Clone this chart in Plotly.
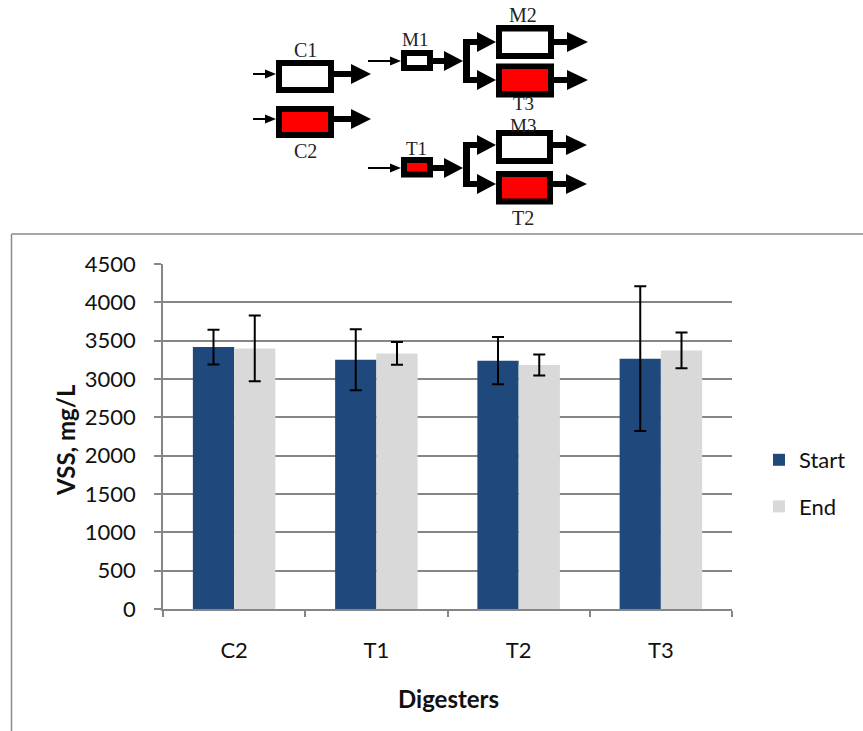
import plotly.graph_objects as go

# VSS at start and end of the digestion period, with standard deviations
digesters = ["C2", "T1", "T2", "T3"]
vss_start = [3416, 3252, 3239, 3265]
vss_start_sd = [226, 398, 308, 944]
vss_end = [3399, 3334, 3182, 3373]
vss_end_sd = [428, 148, 137, 234]

y_ticks = [0, 500, 1000, 1500, 2000, 2500, 3000, 3500, 4000, 4500]

W, H = 863, 731
M_L, M_R, M_T, M_B = 163, 131, 264, 122
PLOT_W = W - M_L - M_R
PLOT_H = H - M_T - M_B

FONT = "Lato"
SERIF = "Liberation Serif"
AXIS_GREY = "#868686"
TEXT = "#111111"


def px(x):
    """Page x in pixels -> paper fraction."""
    return (x - M_L) / PLOT_W


def py(y):
    """Page y in pixels (from top) -> paper fraction."""
    return (H - M_B - y) / PLOT_H


fig = go.Figure()
fig.add_trace(go.Bar(
    name="Start", x=digesters, y=vss_start,
    marker=dict(color="#1f497d", line=dict(width=0)),
    error_y=dict(type="data", array=vss_start_sd, color="black", thickness=2, width=6),
    legendgroup="a",
))
fig.add_trace(go.Bar(
    name="End", x=digesters, y=vss_end,
    marker=dict(color="#d9d9d9", line=dict(width=0)),
    error_y=dict(type="data", array=vss_end_sd, color="black", thickness=2, width=6),
    legendgroup="b",
))

shapes = []


def rect(x0, x1, y0, y1, fill):
    shapes.append(dict(type="rect", xref="paper", yref="paper",
                       x0=px(x0), x1=px(x1), y0=py(y1), y1=py(y0),
                       fillcolor=fill, line=dict(width=0), layer="above"))


def line(x0, y0, x1, y1, width, color="black"):
    shapes.append(dict(type="line", xref="paper", yref="paper",
                       x0=px(x0), x1=px(x1), y0=py(y0), y1=py(y1),
                       line=dict(color=color, width=width), layer="above"))


def tri(xb, xt, yc, half):
    path = (f"M {px(xb)},{py(yc - half)} L {px(xt)},{py(yc)} "
            f"L {px(xb)},{py(yc + half)} Z")
    shapes.append(dict(type="path", xref="paper", yref="paper", path=path,
                       fillcolor="black", line=dict(width=0), layer="above"))


def vessel(ox0, ox1, oy0, oy1, ix0, ix1, iy0, iy1, fill):
    rect(ox0, ox1, oy0, oy1, "black")
    rect(ix0, ix1, iy0, iy1, fill)


def feed(x0, x1, y):
    line(x0, y, x1 - 8, y, 2)
    tri(x1 - 11, x1, y, 4.5)


def outflow(x0, xb, xt, y):
    line(x0, y, xb + 1, y, 6)
    tri(xb, xt, y, 10)


RED = "#ff0000"
# process layout: controls and two-stage trains
vessel(276, 334, 60, 93, 282, 328, 66, 87, "white")
vessel(276, 334, 106, 138, 282, 328, 112, 132, RED)
feed(253, 276, 74)
feed(253, 276, 119)
outflow(334, 351, 371, 74)
outflow(334, 351, 371, 119)

vessel(401, 433, 50, 71, 407, 427, 56, 65, "white")
vessel(401, 433, 157, 177.5, 407, 427, 163, 171.5, RED)
feed(368, 401, 61)
feed(368, 401, 168)
outflow(433, 444, 463, 61)
outflow(433, 444, 463, 168)

for ytop, ybot in [(42, 80), (145, 184)]:
    line(466.5, ytop - 3, 466.5, ybot + 3, 7)
    outflow(463, 477, 496, ytop)
    outflow(463, 477, 496, ybot)

vessel(496, 554, 25, 59, 502, 548, 31.5, 53, "white")
vessel(496, 554, 63.5, 97.5, 502, 548, 69, 91, RED)
vessel(496, 553, 130, 164, 502, 547, 136, 158, "white")
vessel(496, 553, 171, 204.5, 502, 547, 177, 198.5, RED)
for yc in [42, 80]:
    outflow(554, 567, 588, yc)
for yc in [145, 184]:
    outflow(553, 566, 587, yc)

# frame around the chart
line(11.5, 234, 863, 234, 1.5, "#8a8a8a")
line(11.5, 234, 11.5, 731, 1.5, "#8a8a8a")

annotations = []
for txt, x, y, size in [("C1", 305, 50, 20), ("C2", 305, 150.5, 20),
                        ("M1", 415, 39, 19), ("T1", 416, 148, 19),
                        ("M2", 523, 15, 20), ("T3", 523, 104, 19),
                        ("M3", 523, 125, 19), ("T2", 523, 218, 20)]:
    annotations.append(dict(text=txt, x=px(x), y=py(y), xref="paper", yref="paper",
                            showarrow=False, xanchor="center", yanchor="middle",
                            font=dict(family=SERIF, size=size, color="#222222")))

# axis titles
annotations.append(dict(text="<b>VSS, mg/L</b>", x=px(65), y=py(440),
                        xref="paper", yref="paper", showarrow=False, textangle=-90,
                        xanchor="center", yanchor="middle",
                        font=dict(family=FONT, size=24, color=TEXT)))
annotations.append(dict(text="<b>Digesters</b>", x=px(448), y=py(698),
                        xref="paper", yref="paper", showarrow=False,
                        xanchor="center", yanchor="middle",
                        font=dict(family=FONT, size=24, color=TEXT)))

fig.update_layout(
    width=W, height=H,
    margin=dict(l=M_L, r=M_R, t=M_T, b=M_B),
    paper_bgcolor="white", plot_bgcolor="white",
    barmode="group", bargap=0.42, bargroupgap=0,
    font=dict(family=FONT, size=22, color=TEXT),
    showlegend=True,
    legend=dict(x=px(759), y=py(439), xanchor="left", yanchor="top",
                traceorder="grouped", tracegroupgap=15,
                font=dict(family=FONT, size=22, color=TEXT),
                bgcolor="rgba(0,0,0,0)"),
    shapes=shapes,
    annotations=annotations,
)
fig.update_xaxes(
    showline=True, linecolor=AXIS_GREY, linewidth=1.5,
    ticks="outside", tickson="boundaries", ticklen=6, tickcolor=AXIS_GREY, tickwidth=1.5,
    ticklabelstandoff=21,
    tickfont=dict(family=FONT, size=22, color=TEXT),
)
fig.update_yaxes(
    range=[0, 4500], tickvals=y_ticks,
    showgrid=True, gridcolor=AXIS_GREY, gridwidth=1.5,
    showline=True, linecolor=AXIS_GREY, linewidth=1.5,
    ticks="outside", ticklen=7, tickcolor=AXIS_GREY, tickwidth=1.5,
    ticklabelstandoff=14,
    tickfont=dict(family=FONT, size=22, color=TEXT),
    zeroline=False,
)

fig.write_html("out.html")
